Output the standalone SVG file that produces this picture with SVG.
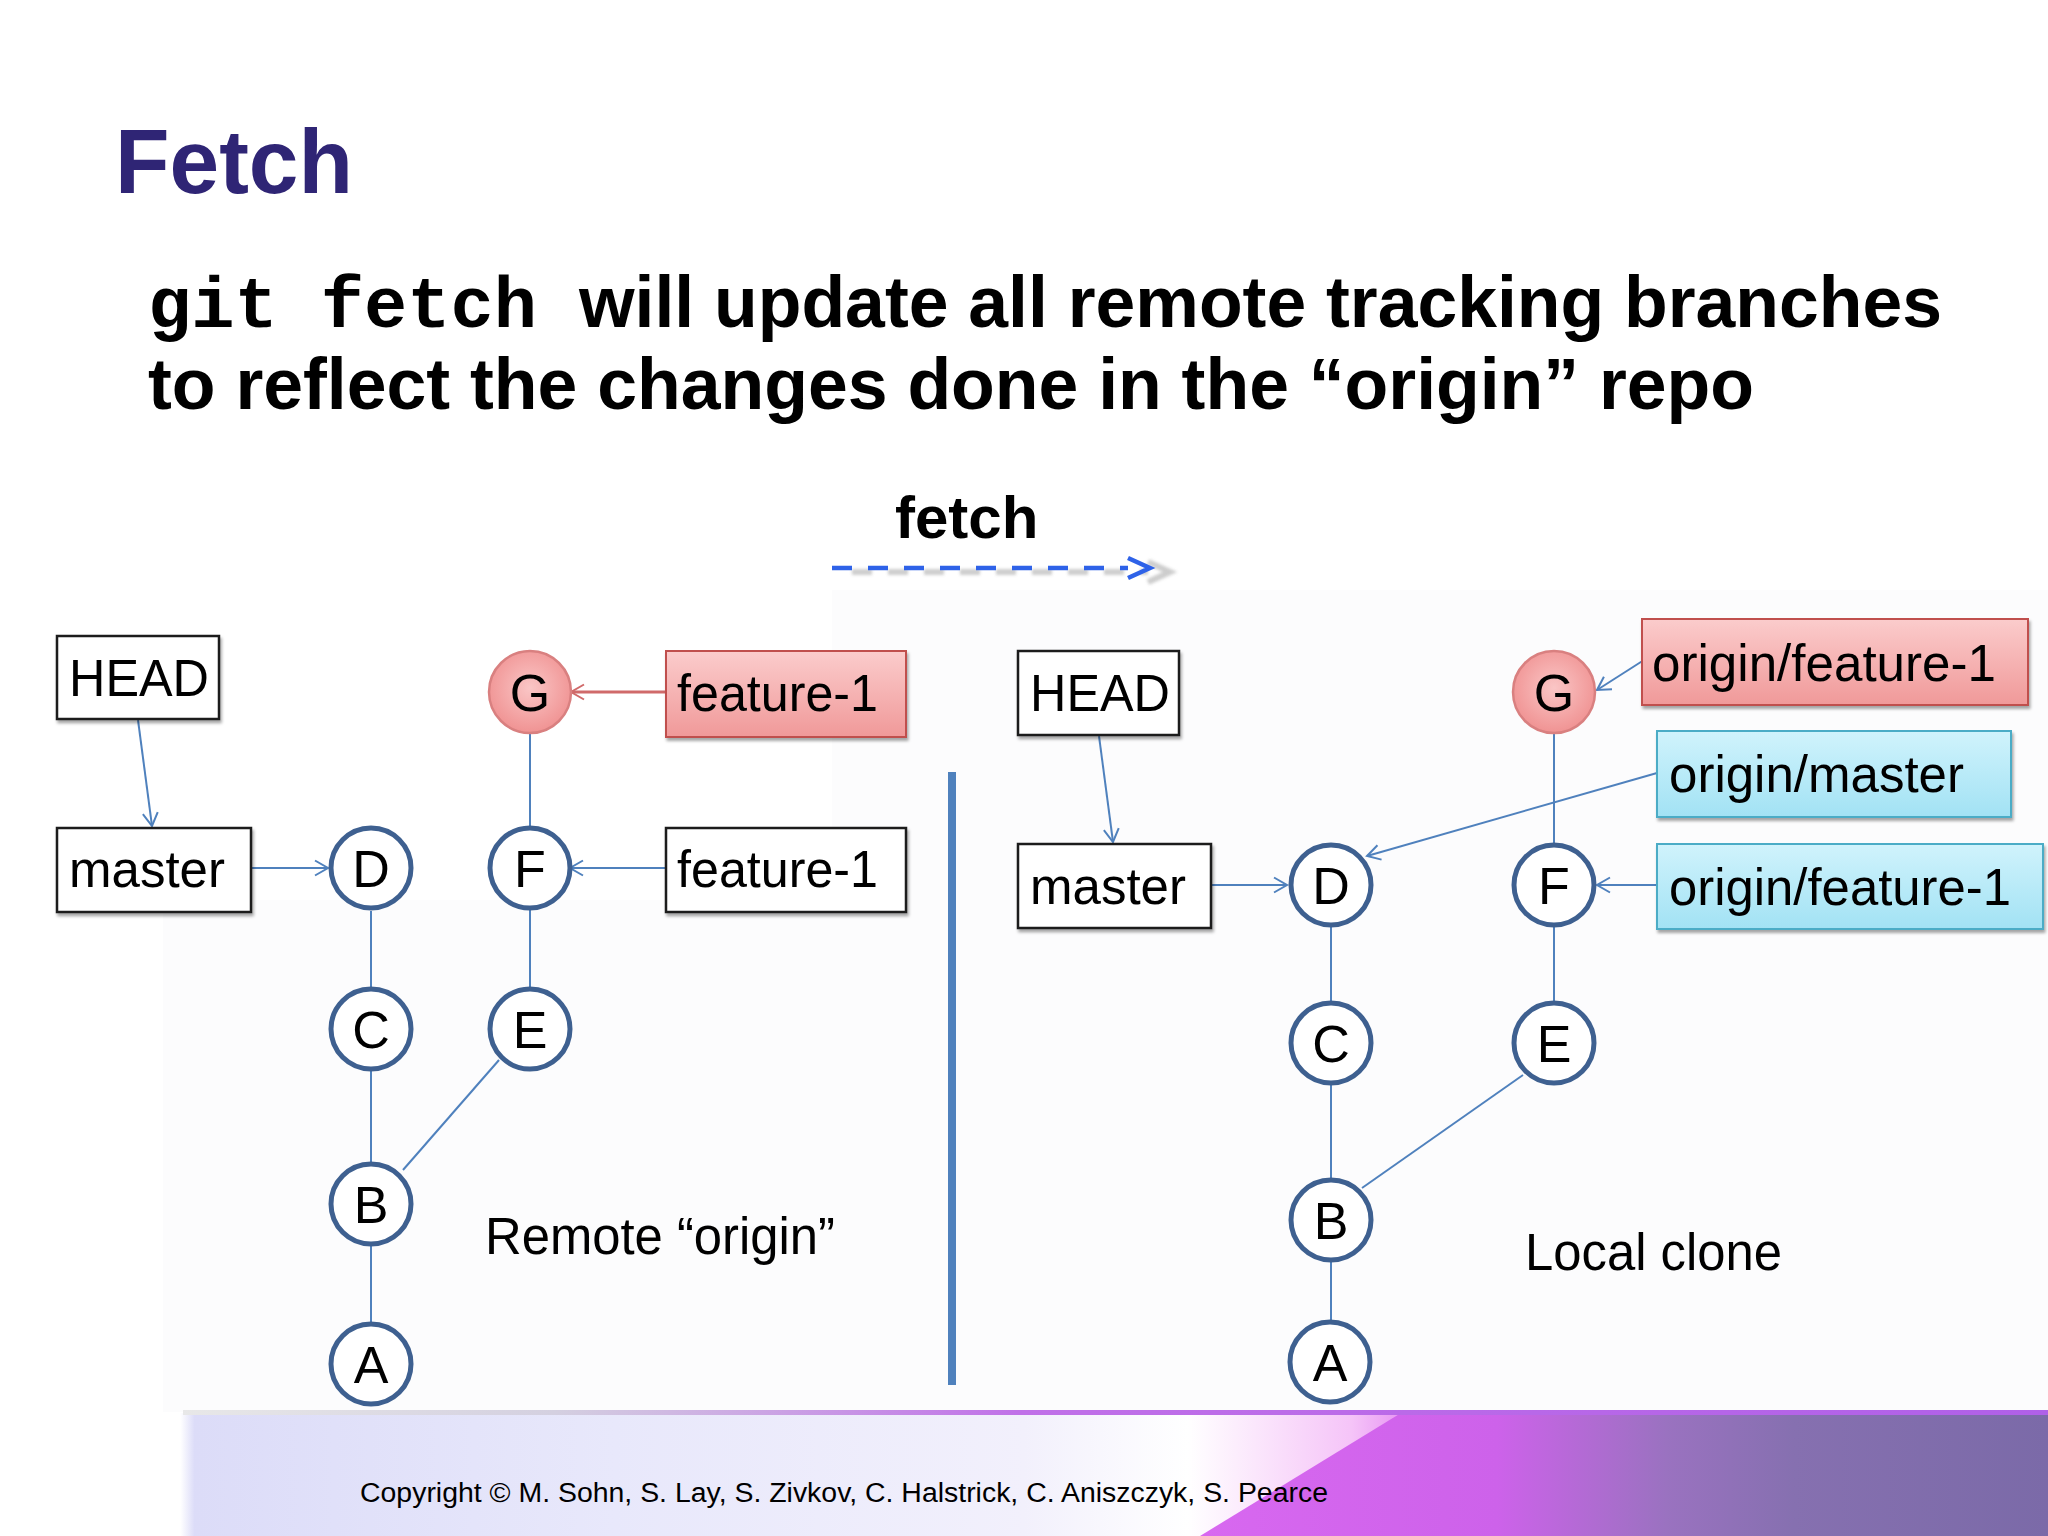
<svg xmlns="http://www.w3.org/2000/svg" width="2048" height="1536" viewBox="0 0 2048 1536">
<defs>
<style>
.t{font-family:"Liberation Sans",Arial,sans-serif;fill:#000}
.lbl{font-family:"Liberation Sans",Arial,sans-serif;font-size:52px;fill:#000}
.cl{font-family:"Liberation Sans",Arial,sans-serif;font-size:52px;fill:#000;text-anchor:middle}
.box{fill:#fff;stroke:#1a1a1a;stroke-width:2.5;filter:url(#sh)}
.rbox{fill:url(#gRed);stroke:#c0504d;stroke-width:2;filter:url(#sh)}
.cbox{fill:url(#gCyan);stroke:#4bacc6;stroke-width:2;filter:url(#sh)}
.commit{fill:#fff;stroke:#3e6090;stroke-width:5}
.gcommit{fill:url(#gG);stroke:#d98080;stroke-width:2.5}
.edge{stroke:#4f81bd;stroke-width:2;fill:none}
.arr{stroke:#4f81bd;stroke-width:2;fill:none;marker-end:url(#open)}
.arrR{stroke:#d06a6a;stroke-width:3;fill:none;marker-end:url(#openR)}
</style>
<marker id="open" markerUnits="userSpaceOnUse" markerWidth="20" markerHeight="20" viewBox="0 0 20 20" refX="14" refY="10" orient="auto">
<path d="M1,2.5 L14,10 L1,17.5" fill="none" stroke="#4f81bd" stroke-width="2"/>
</marker>
<marker id="openR" markerUnits="userSpaceOnUse" markerWidth="20" markerHeight="20" viewBox="0 0 20 20" refX="14" refY="10" orient="auto">
<path d="M1,2.5 L14,10 L1,17.5" fill="none" stroke="#d06a6a" stroke-width="2"/>
</marker>
<filter id="sh" x="-10%" y="-10%" width="120%" height="130%">
<feDropShadow dx="1.5" dy="3" stdDeviation="1.5" flood-color="#000" flood-opacity="0.35"/>
</filter>
<filter id="blur" x="-5%" y="-50%" width="110%" height="200%">
<feGaussianBlur stdDeviation="1.5"/>
</filter>
<linearGradient id="gRed" x1="0" y1="0" x2="0" y2="1">
<stop offset="0" stop-color="#fbcccc"/>
<stop offset="1" stop-color="#f09999"/>
</linearGradient>
<linearGradient id="gCyan" x1="0" y1="0" x2="0" y2="1">
<stop offset="0" stop-color="#d0f3fc"/>
<stop offset="1" stop-color="#a2e2f4"/>
</linearGradient>
<radialGradient id="gG" cx="0.5" cy="0.45" r="0.6">
<stop offset="0" stop-color="#fac6c6"/>
<stop offset="1" stop-color="#ef8e8e"/>
</radialGradient>
<linearGradient id="gFoot" x1="0" y1="0" x2="2048" y2="0" gradientUnits="userSpaceOnUse">
<stop offset="0" stop-color="#ffffff"/>
<stop offset="0.088" stop-color="#ffffff"/>
<stop offset="0.095" stop-color="#dcdcf8"/>
<stop offset="0.3" stop-color="#e8e8fb"/>
<stop offset="0.5" stop-color="#f2f0fc"/>
<stop offset="0.58" stop-color="#ffffff"/>
<stop offset="0.66" stop-color="#f5c4f8"/>
<stop offset="0.69" stop-color="#e48cf2"/>
</linearGradient>
<linearGradient id="gMag" x1="1200" y1="0" x2="2048" y2="0" gradientUnits="userSpaceOnUse">
<stop offset="0" stop-color="#d868f0"/>
<stop offset="0.35" stop-color="#cd62ea"/>
<stop offset="0.55" stop-color="#9a72c0"/>
<stop offset="0.7" stop-color="#8670b0"/>
<stop offset="1" stop-color="#7b6aa8"/>
</linearGradient>
<linearGradient id="gLine" x1="180" y1="0" x2="2048" y2="0" gradientUnits="userSpaceOnUse">
<stop offset="0" stop-color="#e8e8e8"/>
<stop offset="0.2" stop-color="#d4d0e0"/>
<stop offset="0.45" stop-color="#c070e8"/>
<stop offset="1" stop-color="#b060e8"/>
</linearGradient>
</defs>

<rect x="0" y="0" width="2048" height="1536" fill="#ffffff"/>
<rect x="163" y="900" width="1885" height="512" fill="#fcfcfd"/>
<rect x="832" y="590" width="1216" height="320" fill="#fcfcfd"/>

<!-- footer -->
<g id="footer">
<rect x="0" y="1413" width="2048" height="123" fill="url(#gFoot)"/>
<polygon points="1401,1413 2048,1413 2048,1536 1200,1536" fill="url(#gMag)"/>
<rect x="183" y="1410" width="1865" height="5" fill="url(#gLine)"/>
<text class="t" x="360" y="1502" font-size="27" textLength="968" lengthAdjust="spacingAndGlyphs">Copyright © M. Sohn, S. Lay, S. Zivkov, C. Halstrick, C. Aniszczyk, S. Pearce</text>
</g>

<!-- heading -->
<text class="t" x="115" y="193" font-size="90" font-weight="bold" style="fill:#2f2575" textLength="238" lengthAdjust="spacingAndGlyphs">Fetch</text>
<text x="148" y="327" font-size="72" font-weight="bold" fill="#000"><tspan font-family="'Liberation Mono','Courier New',monospace">git fetch</tspan><tspan x="579" font-family="'Liberation Sans',Arial,sans-serif" textLength="1363" lengthAdjust="spacingAndGlyphs">will update all remote tracking branches</tspan></text>
<text class="t" x="148" y="409" font-size="72" font-weight="bold" textLength="1606" lengthAdjust="spacingAndGlyphs">to reflect the changes done in the “origin” repo</text>

<!-- fetch arrow -->
<g id="fetch-arrow">
<text class="t" x="895" y="538" font-size="60" font-weight="bold">fetch</text>
<g transform="translate(20,4)" opacity="0.9" filter="url(#blur)">
<path d="M832,568 H1128" stroke="#c8c8c8" stroke-width="6" stroke-dasharray="20 16" fill="none"/>
<path d="M1128,558 L1150,568 L1128,578" stroke="#c8c8c8" stroke-width="6" fill="none"/>
</g>
<path d="M832,568 H1128" stroke="#2e62e8" stroke-width="4.5" stroke-dasharray="20 16" fill="none"/>
<path d="M1128,558 L1150,568 L1128,578" stroke="#2e62e8" stroke-width="4.5" fill="none"/>
</g>

<!-- divider -->
<rect id="divider" x="948" y="772" width="8" height="613" fill="#4f81bd"/>

<!-- connectors -->
<g id="connectors">
<path class="arr" d="M138,720 L152,826"/>
<path class="arr" d="M251,868 L328,868"/>
<path class="arrR" d="M665,692 L571,692"/>
<path class="arr" d="M665,868 L570,868"/>
<path class="edge" d="M530,733 V827"/>
<path class="edge" d="M530,910 V988"/>
<path class="edge" d="M371,911 V987"/>
<path class="edge" d="M371,1070 V1163"/>
<path class="edge" d="M371,1245 V1323"/>
<path class="edge" d="M403,1170 L499,1060"/>

<path class="arr" d="M1099,736 L1113,842"/>
<path class="arr" d="M1211,885 L1287,885"/>
<path class="arr" d="M1644,660 L1597,690"/>
<path class="edge" d="M1554,733 V843"/>
<path class="arr" d="M1657,773 L1367,856"/>
<path class="arr" d="M1657,885 L1597,885"/>
<path class="edge" d="M1554,927 V1002"/>
<path class="edge" d="M1331,927 V1002"/>
<path class="edge" d="M1331,1085 V1178"/>
<path class="edge" d="M1331,1262 V1322"/>
<path class="edge" d="M1362,1188 L1523,1075"/>
</g>

<!-- left: remote origin -->
<g id="r-head"><rect class="box" x="57" y="636" width="162" height="83"/><text class="lbl" x="69" y="696" textLength="140" lengthAdjust="spacingAndGlyphs">HEAD</text></g>
<g id="r-master"><rect class="box" x="57" y="828" width="194" height="84"/><text class="lbl" x="69" y="887" textLength="156" lengthAdjust="spacingAndGlyphs">master</text></g>
<g id="r-feature-1-new"><rect class="rbox" x="666" y="651" width="240" height="86"/><text class="lbl" x="677" y="711" textLength="201" lengthAdjust="spacingAndGlyphs">feature-1</text></g>
<g id="r-feature-1-old"><rect class="box" x="666" y="828" width="240" height="84"/><text class="lbl" x="677" y="887" textLength="201" lengthAdjust="spacingAndGlyphs">feature-1</text></g>
<g id="r-G"><circle class="gcommit" cx="530" cy="692" r="41"/><text class="cl" x="530" y="711">G</text></g>
<g id="r-F"><circle class="commit" cx="530" cy="868" r="40"/><text class="cl" x="530" y="887">F</text></g>
<g id="r-E"><circle class="commit" cx="530" cy="1029" r="40"/><text class="cl" x="530" y="1048">E</text></g>
<g id="r-D"><circle class="commit" cx="371" cy="868" r="40"/><text class="cl" x="371" y="887">D</text></g>
<g id="r-C"><circle class="commit" cx="371" cy="1029" r="40"/><text class="cl" x="371" y="1048">C</text></g>
<g id="r-B"><circle class="commit" cx="371" cy="1204" r="40"/><text class="cl" x="371" y="1223">B</text></g>
<g id="r-A"><circle class="commit" cx="371" cy="1364" r="40"/><text class="cl" x="371" y="1383">A</text></g>
<text class="t" x="485" y="1254" font-size="51" textLength="350" lengthAdjust="spacingAndGlyphs">Remote “origin”</text>

<!-- right: local clone -->
<g id="l-head"><rect class="box" x="1018" y="651" width="161" height="84"/><text class="lbl" x="1030" y="711" textLength="140" lengthAdjust="spacingAndGlyphs">HEAD</text></g>
<g id="l-master"><rect class="box" x="1018" y="844" width="193" height="84"/><text class="lbl" x="1030" y="904" textLength="156" lengthAdjust="spacingAndGlyphs">master</text></g>
<g id="l-origin-feature-1-new"><rect class="rbox" x="1642" y="619" width="386" height="86"/><text class="lbl" x="1652" y="681" textLength="344" lengthAdjust="spacingAndGlyphs">origin/feature-1</text></g>
<g id="l-origin-master"><rect class="cbox" x="1657" y="731" width="354" height="86"/><text class="lbl" x="1669" y="792" textLength="295" lengthAdjust="spacingAndGlyphs">origin/master</text></g>
<g id="l-origin-feature-1-old"><rect class="cbox" x="1657" y="844" width="386" height="85"/><text class="lbl" x="1669" y="905" textLength="342" lengthAdjust="spacingAndGlyphs">origin/feature-1</text></g>
<g id="l-G"><circle class="gcommit" cx="1554" cy="692" r="41"/><text class="cl" x="1554" y="711">G</text></g>
<g id="l-F"><circle class="commit" cx="1554" cy="885" r="40"/><text class="cl" x="1554" y="904">F</text></g>
<g id="l-E"><circle class="commit" cx="1554" cy="1043" r="40"/><text class="cl" x="1554" y="1062">E</text></g>
<g id="l-D"><circle class="commit" cx="1331" cy="885" r="40"/><text class="cl" x="1331" y="904">D</text></g>
<g id="l-C"><circle class="commit" cx="1331" cy="1043" r="40"/><text class="cl" x="1331" y="1062">C</text></g>
<g id="l-B"><circle class="commit" cx="1331" cy="1220" r="40"/><text class="cl" x="1331" y="1239">B</text></g>
<g id="l-A"><circle class="commit" cx="1330" cy="1362" r="40"/><text class="cl" x="1330" y="1381">A</text></g>
<text class="t" x="1525" y="1270" font-size="51" textLength="257" lengthAdjust="spacingAndGlyphs">Local clone</text>
</svg>
